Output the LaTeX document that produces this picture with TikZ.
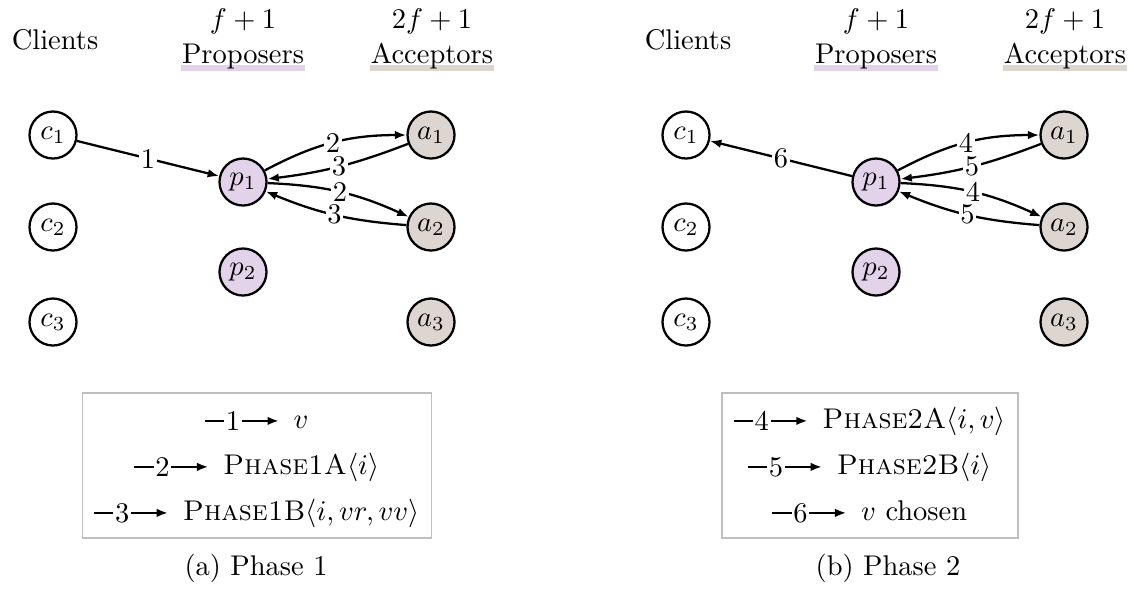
\documentclass[tikz,border=0pt]{standalone}
\usetikzlibrary{arrows.meta,backgrounds,fit}
\definecolor{propfill}{HTML}{E3D3EA}
\definecolor{accfill}{HTML}{DDD6D0}
\definecolor{boxgray}{HTML}{BFBFBF}
\begin{document}
\begin{tikzpicture}[x=0.351pt,y=-0.351pt,
  proc/.style={circle,draw,line width=0.8pt,minimum size=16.5pt,inner sep=0pt},
  client/.style={proc,fill=white},
  proposer/.style={proc,fill=propfill},
  acceptor/.style={proc,fill=accfill},
  msg/.style={-{Latex[length=4pt,width=3pt]},line width=0.8pt},
  lbl/.style={fill=white,inner sep=0.6pt},
  legrow/.style={inner sep=0pt,anchor=base},
  legbox/.style={draw=boxgray,line width=0.6pt,inner xsep=4pt,inner ysep=0pt},
  hdr/.style={inner sep=0pt,anchor=base}]
\useasboundingbox (0,0) rectangle (1133,590);

% ---------- panel (a) ----------
\node[hdr] (clA) at (55,49) {Clients};
\node[hdr] (fA) at (243,28) {$f+1$};
\node[hdr] (prA) at (243,63) {Proposers};
\node[hdr] (afA) at (432,28) {$2f+1$};
\node[hdr] (acA) at (432,63) {Acceptors};
\begin{scope}[on background layer]
  \fill[propfill] ([xshift=-0.3pt,yshift=-0.7pt]prA.base west) rectangle ([xshift=0.3pt,yshift=-2.8pt]prA.base east);
  \fill[accfill] ([xshift=-0.3pt,yshift=-0.7pt]acA.base west) rectangle ([xshift=0.3pt,yshift=-2.8pt]acA.base east);
\end{scope}

\node[client] (c1A) at (53,135) {$c_1$};
\node[client] (c2A) at (53,227) {$c_2$};
\node[client] (c3A) at (53,322) {$c_3$};
\node[proposer] (p1A) at (243,182) {$p_1$};
\node[proposer] (p2A) at (243,272) {$p_2$};
\node[acceptor] (a1A) at (431,135) {$a_1$};
\node[acceptor] (a2A) at (431,227) {$a_2$};
\node[acceptor] (a3A) at (431,322) {$a_3$};

\draw[msg] (c1A) -- node[lbl]{1} (p1A);
\draw[msg] (p1A) to[bend left=14] node[lbl]{2} (a1A);
\draw[msg] (a1A) to[bend left=7] node[lbl]{3} (p1A);
\draw[msg] (p1A) to[bend left=11] node[lbl]{2} (a2A);
\draw[msg] (a2A) to[bend left=9] node[lbl]{3} (p1A);

\node[legrow] (rA1) at (257,428) {\hspace*{31pt}\strut$v$};
\node[legrow] (rA2) at (257,474) {\hspace*{31pt}\strut\textsc{Phase1A}$\langle i\rangle$};
\node[legrow] (rA3) at (257,520) {\hspace*{31pt}\strut\textsc{Phase1B}$\langle i, vr, vv\rangle$};
\draw[msg] ([yshift=2.5pt]rA1.base west) -- node[lbl,pos=0.38]{1} ([xshift=26pt,yshift=2.5pt]rA1.base west);
\draw[msg] ([yshift=2.5pt]rA2.base west) -- node[lbl,pos=0.38]{2} ([xshift=26pt,yshift=2.5pt]rA2.base west);
\draw[msg] ([yshift=2.5pt]rA3.base west) -- node[lbl,pos=0.38]{3} ([xshift=26pt,yshift=2.5pt]rA3.base west);
\coordinate (tA) at (257,393);
\coordinate (bA) at (257,538);
\node[legbox,fit=(rA1)(rA2)(rA3)(tA)(bA)] (boxA) {};
\node[hdr] (capA) at (256,575) {(a) Phase 1};

% ---------- panel (b) ----------
\node[hdr] (clB) at (688,49) {Clients};
\node[hdr] (fB) at (876,28) {$f+1$};
\node[hdr] (prB) at (876,63) {Proposers};
\node[hdr] (afB) at (1065,28) {$2f+1$};
\node[hdr] (acB) at (1065,63) {Acceptors};
\begin{scope}[on background layer]
  \fill[propfill] ([xshift=-0.3pt,yshift=-0.7pt]prB.base west) rectangle ([xshift=0.3pt,yshift=-2.8pt]prB.base east);
  \fill[accfill] ([xshift=-0.3pt,yshift=-0.7pt]acB.base west) rectangle ([xshift=0.3pt,yshift=-2.8pt]acB.base east);
\end{scope}

\node[client] (c1B) at (686,135) {$c_1$};
\node[client] (c2B) at (686,227) {$c_2$};
\node[client] (c3B) at (686,322) {$c_3$};
\node[proposer] (p1B) at (876,182) {$p_1$};
\node[proposer] (p2B) at (876,272) {$p_2$};
\node[acceptor] (a1B) at (1064,135) {$a_1$};
\node[acceptor] (a2B) at (1064,227) {$a_2$};
\node[acceptor] (a3B) at (1064,322) {$a_3$};

\draw[msg] (p1B) -- node[lbl]{6} (c1B);
\draw[msg] (p1B) to[bend left=14] node[lbl]{4} (a1B);
\draw[msg] (a1B) to[bend left=7] node[lbl]{5} (p1B);
\draw[msg] (p1B) to[bend left=11] node[lbl]{4} (a2B);
\draw[msg] (a2B) to[bend left=9] node[lbl]{5} (p1B);

\node[legrow] (rB1) at (870,428) {\hspace*{31pt}\strut\textsc{Phase2A}$\langle i, v\rangle$};
\node[legrow] (rB2) at (870,474) {\hspace*{31pt}\strut\textsc{Phase2B}$\langle i\rangle$};
\node[legrow] (rB3) at (870,520) {\hspace*{31pt}\strut$v$ chosen};
\draw[msg] ([yshift=2.5pt]rB1.base west) -- node[lbl,pos=0.38]{4} ([xshift=26pt,yshift=2.5pt]rB1.base west);
\draw[msg] ([yshift=2.5pt]rB2.base west) -- node[lbl,pos=0.38]{5} ([xshift=26pt,yshift=2.5pt]rB2.base west);
\draw[msg] ([yshift=2.5pt]rB3.base west) -- node[lbl,pos=0.38]{6} ([xshift=26pt,yshift=2.5pt]rB3.base west);
\coordinate (tB) at (870,393);
\coordinate (bB) at (870,538);
\node[legbox,fit=(rB1)(rB2)(rB3)(tB)(bB)] (boxB) {};
\node[hdr] (capB) at (888,575) {(b) Phase 2};
\end{tikzpicture}
\end{document}
